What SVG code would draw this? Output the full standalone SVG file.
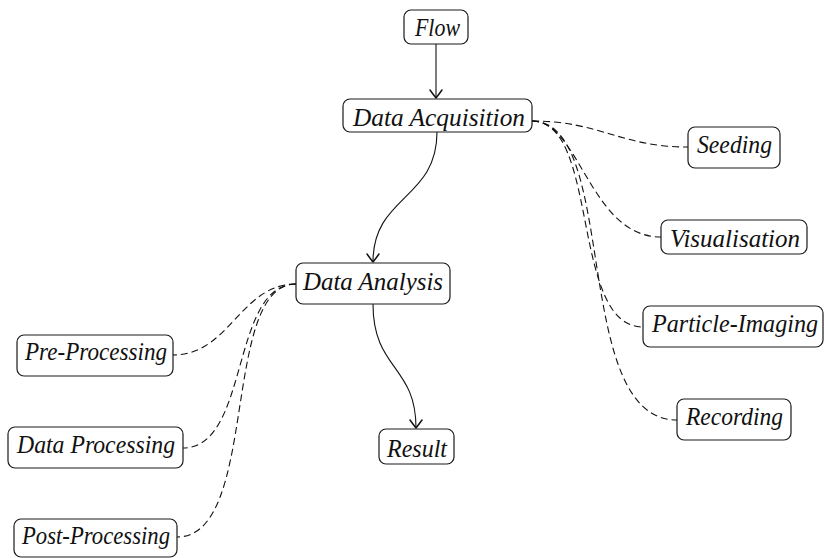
<svg xmlns="http://www.w3.org/2000/svg" width="824" height="558" viewBox="0 0 824 558">
<defs>
<style>
.box{fill:#fff;stroke:#1a1a1a;stroke-width:1.2}
.lbl{font-family:"Liberation Serif","DejaVu Serif",serif;font-style:italic;font-size:25px;fill:#111}
.edge{fill:none;stroke:#111;stroke-width:1.1}
.dash{fill:none;stroke:#111;stroke-width:1.1;stroke-dasharray:7 4}
</style>
<marker id="arr" viewBox="-10 -7 12 14" refX="0" refY="0" markerWidth="12" markerHeight="14" markerUnits="userSpaceOnUse" orient="auto">
<path d="M-8,-6 Q-2.5,-2 0,0 Q-2.5,2 -8,6" fill="none" stroke="#111" stroke-width="1.5" stroke-linecap="round" stroke-linejoin="round"/>
</marker>
</defs>
<rect width="824" height="558" fill="#fff"/>
<g id="connectors">
<path class="edge" d="M436,44 L436,98" marker-end="url(#arr)"/>
<path class="edge" d="M437,132 C437,200 373,195 373,262" marker-end="url(#arr)"/>
<path class="edge" d="M373,304 C373,370 416,365 416,428" marker-end="url(#arr)"/>
<path class="dash" d="M532,121 C600,121 620,147 688,147"/>
<path class="dash" d="M532,121 C580,121 590,237 661,237"/>
<path class="dash" d="M532,121 C600,121 570,327 643,327"/>
<path class="dash" d="M532,121 C620,121 570,420 677,420"/>
<path class="dash" d="M296,284 C240,284 230,355 173,355"/>
<path class="dash" d="M296,284 C230,284 250,448 183,448"/>
<path class="dash" d="M296,284 C220,284 260,537 177,537"/>
</g>
<g id="flow"><rect class="box" x="404" y="10" width="64" height="34" rx="7"/><text class="lbl" x="415" y="36" textLength="45" lengthAdjust="spacingAndGlyphs">Flow</text></g>
<g id="acq"><rect class="box" x="343" y="99" width="189" height="33" rx="7"/><text class="lbl" x="353" y="126" textLength="172" lengthAdjust="spacingAndGlyphs">Data Acquisition</text></g>
<g id="seeding"><rect class="box" x="688" y="127" width="92" height="41" rx="7"/><text class="lbl" x="697" y="153" textLength="75" lengthAdjust="spacingAndGlyphs">Seeding</text></g>
<g id="visualisation"><rect class="box" x="661" y="220" width="146" height="34" rx="7"/><text class="lbl" x="670" y="247" textLength="130" lengthAdjust="spacingAndGlyphs">Visualisation</text></g>
<g id="imaging"><rect class="box" x="643" y="306" width="180" height="41" rx="7"/><text class="lbl" x="652" y="332" textLength="166" lengthAdjust="spacingAndGlyphs">Particle-Imaging</text></g>
<g id="recording"><rect class="box" x="677" y="399" width="114" height="41" rx="7"/><text class="lbl" x="686" y="425" textLength="97" lengthAdjust="spacingAndGlyphs">Recording</text></g>
<g id="analysis"><rect class="box" x="296" y="263" width="154" height="41" rx="7"/><text class="lbl" x="303" y="290" textLength="140" lengthAdjust="spacingAndGlyphs">Data Analysis</text></g>
<g id="pre"><rect class="box" x="17" y="335" width="156" height="41" rx="7"/><text class="lbl" x="25" y="360" textLength="142" lengthAdjust="spacingAndGlyphs">Pre-Processing</text></g>
<g id="dataproc"><rect class="box" x="8" y="427" width="175" height="41" rx="7"/><text class="lbl" x="17" y="453" textLength="158" lengthAdjust="spacingAndGlyphs">Data Processing</text></g>
<g id="post"><rect class="box" x="14" y="519" width="163" height="38" rx="7"/><text class="lbl" x="22" y="544" textLength="148" lengthAdjust="spacingAndGlyphs">Post-Processing</text></g>
<g id="result"><rect class="box" x="379" y="429" width="75" height="35" rx="7"/><text class="lbl" x="387" y="457" textLength="60" lengthAdjust="spacingAndGlyphs">Result</text></g>
</svg>
